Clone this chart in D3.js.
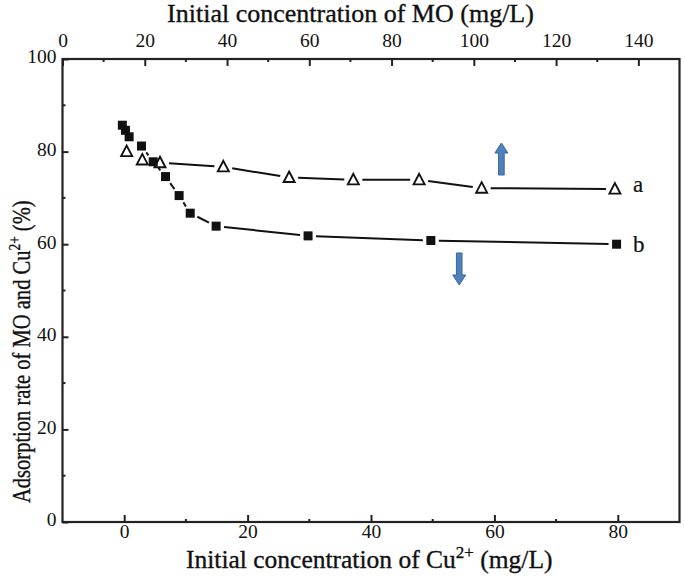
<!DOCTYPE html>
<html><head><meta charset="utf-8">
<script src="https://cdn.jsdelivr.net/npm/d3@7"></script>
<style>body{margin:0;background:#fff}svg{display:block}</style>
</head><body><svg id="c" width="685" height="581"></svg>
<script>
// Series a: MO (top axis) vs adsorption rate
const moConc = [15.6, 19.4, 23.7, 39.1, 55.1, 70.7, 86.7, 101.9, 134.3];
const moRate = [80.0, 78.2, 77.6, 76.7, 74.4, 73.9, 73.9, 72.1, 71.9];
// Series b: Cu2+ (bottom axis) vs adsorption rate
const cuConc = [-0.3, 0.2, 0.8, 2.8, 4.7, 6.7, 8.9, 10.7, 14.9, 29.8, 49.7, 79.8];
const cuRate = [85.7, 84.6, 83.2, 81.2, 77.8, 74.6, 70.5, 66.7, 63.9, 61.8, 60.8, 60.0];
const bottomTicks = [0, 20, 40, 60, 80];
const topTicks = [0, 20, 40, 60, 80, 100, 120, 140];
const yTicks = [0, 20, 40, 60, 80, 100];

const svg = d3.select("#c");
const L = 62.5, R = 679.5, T = 59, B = 522;
const xb = d3.scaleLinear().domain([-10, 90]).range([L, R]);
const xt = d3.scaleLinear().domain([0, 150]).range([L, R]);
const y = d3.scaleLinear().domain([0, 100]).range([B, T]);
const font = "'Liberation Serif', 'Times New Roman', serif";

// frame
svg.append("rect").attr("x", L).attr("y", T).attr("width", R - L).attr("height", B - T)
  .attr("fill", "none").attr("stroke", "#222").attr("stroke-width", 2.2);

// axes
const gB = svg.append("g").attr("transform", `translate(0,${B})`)
  .call(d3.axisBottom(xb).tickValues(bottomTicks).tickSize(-7).tickPadding(2).tickFormat(d3.format("d")));
const gT = svg.append("g").attr("transform", `translate(0,${T})`)
  .call(d3.axisTop(xt).tickValues(topTicks).tickSize(-7).tickPadding(12).tickFormat(d3.format("d")));
const gL = svg.append("g").attr("transform", `translate(${L},0)`)
  .call(d3.axisLeft(y).tickValues(yTicks).tickSize(-6).tickPadding(6).tickFormat(d3.format("d")));
[gB, gT, gL].forEach(g => {
  g.attr("font-family", font);
  g.select(".domain").remove();
  g.selectAll(".tick line").attr("stroke", "#222").attr("stroke-width", 2);
  g.selectAll(".tick text").style("font-family", font).attr("font-size", 19.5).attr("fill", "#111");
});
gL.selectAll(".tick text").attr("dy", "0.2em");
// minor ticks
const minorB = [10, 30, 50, 70];
svg.append("g").selectAll("line").data(minorB).join("line")
  .attr("x1", d => xb(d)).attr("x2", d => xb(d)).attr("y1", B).attr("y2", B - 3)
  .attr("stroke", "#222").attr("stroke-width", 2);
const minorT = [10, 30, 50, 70, 90, 110, 130];
svg.append("g").selectAll("line").data(minorT).join("line")
  .attr("x1", d => xt(d)).attr("x2", d => xt(d)).attr("y1", T).attr("y2", T + 3)
  .attr("stroke", "#222").attr("stroke-width", 2);
const minorY = [10, 30, 50, 70, 90];
svg.append("g").selectAll("line").data(minorY).join("line")
  .attr("x1", L).attr("x2", L + 3).attr("y1", d => y(d)).attr("y2", d => y(d))
  .attr("stroke", "#222").attr("stroke-width", 2);

// titles
function styleT(t, fs) {
  return t.style("font-family", font).attr("font-size", fs).attr("fill", "#111")
    .attr("stroke", "#111").attr("stroke-width", 0.35);
}
styleT(svg.append("text").attr("x", 350.5).attr("y", 22).attr("text-anchor", "middle"), 26)
  .text("Initial concentration of MO (mg/L)");
const bt = styleT(svg.append("text").attr("x", 186).attr("y", 568).attr("text-anchor", "start"), 25.5);
bt.append("tspan").text("Initial concentration of Cu");
bt.append("tspan").attr("font-size", 17).attr("dy", -10).text("2+");
bt.append("tspan").attr("dy", 10).text(" (mg/L)");
const lt = styleT(svg.append("text").attr("transform", "translate(30,503) rotate(-90) scale(0.79,1)").attr("text-anchor", "start"), 26);
lt.append("tspan").text("Adsorption rate of MO and Cu");
lt.append("tspan").attr("font-size", 17).attr("dy", -10).text("2+");
lt.append("tspan").attr("dy", 10).text(" (%)");

// line with gaps near markers
function gapLine(pts, gap) {
  const g = svg.append("g");
  for (let i = 0; i < pts.length - 1; i++) {
    const [x1, y1] = pts[i], [x2, y2] = pts[i + 1];
    const dx = x2 - x1, dy = y2 - y1, len = Math.hypot(dx, dy);
    if (len <= 2 * gap + 1) continue;
    const ux = dx / len, uy = dy / len;
    g.append("line").attr("x1", x1 + ux * gap).attr("y1", y1 + uy * gap)
      .attr("x2", x2 - ux * gap).attr("y2", y2 - uy * gap)
      .attr("stroke", "#111").attr("stroke-width", 2);
  }
}
const ptsA = moConc.map((c, i) => [xt(c), y(moRate[i])]);
const ptsB = cuConc.map((c, i) => [xb(c), y(cuRate[i])]);
gapLine(ptsA, 9);
gapLine(ptsB, 8);

// markers
svg.append("g").selectAll("path").data(ptsA).join("path")
  .attr("d", d => `M${d[0]},${d[1] - 6}L${d[0] + 5.5},${d[1] + 4.5}L${d[0] - 5.5},${d[1] + 4.5}Z`)
  .attr("fill", "#fff").attr("stroke", "#111").attr("stroke-width", 1.9);
svg.append("g").selectAll("rect").data(ptsB).join("rect")
  .attr("x", d => d[0] - 4.5).attr("y", d => d[1] - 4.5).attr("width", 9).attr("height", 9)
  .attr("fill", "#111");

// labels
styleT(svg.append("text").attr("x", 633).attr("y", 192), 23).attr("stroke-width", 0.2).text("a");
styleT(svg.append("text").attr("x", 633).attr("y", 252), 23).attr("stroke-width", 0.2).text("b");

// arrows
function arrow(cx, y1, y2) {
  const dir = y2 < y1 ? -1 : 1;
  const headLen = 10, sw = 2.8, hw = 6.5;
  const yh = y2 - dir * headLen;
  const p = `M${cx - sw},${y1}L${cx - sw},${yh}L${cx - hw},${yh}L${cx},${y2}L${cx + hw},${yh}L${cx + sw},${yh}L${cx + sw},${y1}Z`;
  svg.append("path").attr("d", p).attr("fill", "#4f81bd").attr("stroke", "#3a6595").attr("stroke-width", 1);
}
arrow(xt(106.7), 175, 143);
arrow(xb(54.3), 253, 285);
</script></body></html>
